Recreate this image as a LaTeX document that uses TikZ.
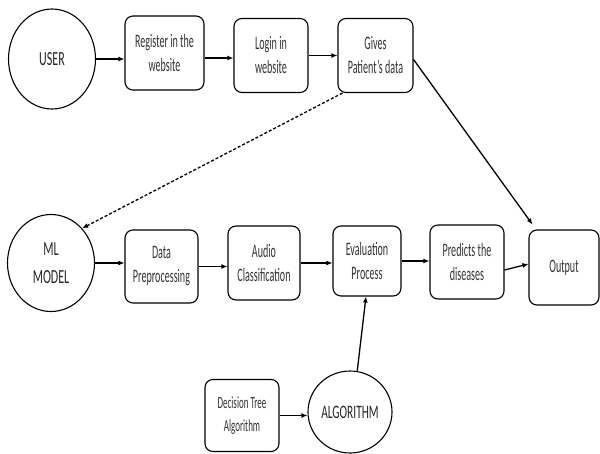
\documentclass[tikz,border=0pt]{standalone}
\usepackage{fontspec}
\setmainfont{Carlito}[FakeStretch=0.6]
\newfontfamily\boxfont{Carlito}[FakeStretch=0.53]
\usetikzlibrary{arrows.meta,shapes.geometric}

\begin{document}
\begin{tikzpicture}[x=1pt,y=-1pt,
	box/.style={draw,rounded corners=8pt,line width=1.1pt,align=center,
		minimum width=74pt,minimum height=74pt,inner sep=0pt,
		font=\boxfont\fontsize{19}{24}\selectfont,text=black!80},
	round/.style={draw,ellipse,line width=1.1pt,align=center,inner sep=0pt,
		font=\fontsize{20}{28}\selectfont,text=black!85},
	flow/.style={line width=1.3pt,-{Latex[length=6pt,width=5pt]}}]
	
	\useasboundingbox (0,0) rectangle (600,453);
	
	% top row
	\node[round,minimum width=87pt,minimum height=100pt] (user) at (52,59) {USER};
	\node[box,minimum width=79pt] (register) at (164.5,53) {Register in the\\website};
	\node[box] (login) at (271,55.5) {Login in\\website};
	\node[box,minimum width=75pt] (gives) at (375.5,55.5) {Gives\\Patient’s data};
	
	% middle row
	\node[round,minimum width=87pt,minimum height=97pt] (mlmodel) at (51,263) {ML\\MODEL};
	\node[box,minimum width=73pt,minimum height=73pt] (preproc) at (161.5,266.5) {Data\\Preprocessing};
	\node[box,minimum width=72pt] (audio) at (264,263) {Audio\\Classification};
	\node[box,minimum width=68pt,minimum height=70pt] (eval) at (367,261) {Evaluation\\Process};
	\node[box] (predicts) at (467,262) {Predicts the\\diseases};
	\node[box,minimum width=70pt,minimum height=75pt] (output) at (564,267.5) {Output};
	
	% bottom row
	\node[box,minimum height=72pt,font=\boxfont\fontsize{17}{23}\selectfont] (dectree) at (242,415.5) {Decision Tree\\Algorithm};
	\node[round,minimum width=84pt,minimum height=82pt,font=\fontsize{19}{28}\selectfont] (algorithm) at (350,412) {ALGORITHM};
	
	% connectors
	\draw[flow] (user.east) -- (user.east -| register.west);
	\draw[flow] ([yshift=-5pt]register.east) -- ([yshift=-5pt]register.east -| login.west);
	\draw[flow] (login.east) -- (login.east -| gives.west);
	\draw[flow] ([yshift=-4pt]gives.east) -- ([shift={(4pt,5pt)}]output.north west);
	\draw[flow,densely dashed] ([xshift=5pt]gives.south west) -- (mlmodel.north east);
	
	\draw[flow] (mlmodel.east) -- (mlmodel.east -| preproc.west);
	\draw[flow] (preproc.east) -- (preproc.east -| audio.west);
	\draw[flow] (audio.east) -- (audio.east -| eval.west);
	\draw[flow] (eval.east) -- (eval.east -| predicts.west);
	\draw[flow] ([yshift=-8pt]predicts.east) -- ([yshift=3.5pt]output.west);
	
	\draw[flow] (dectree.east) -- (dectree.east -| algorithm.west);
	\draw[flow] (algorithm.80) -- ([xshift=-1pt]eval.south);
	
\end{tikzpicture}
\end{document}
